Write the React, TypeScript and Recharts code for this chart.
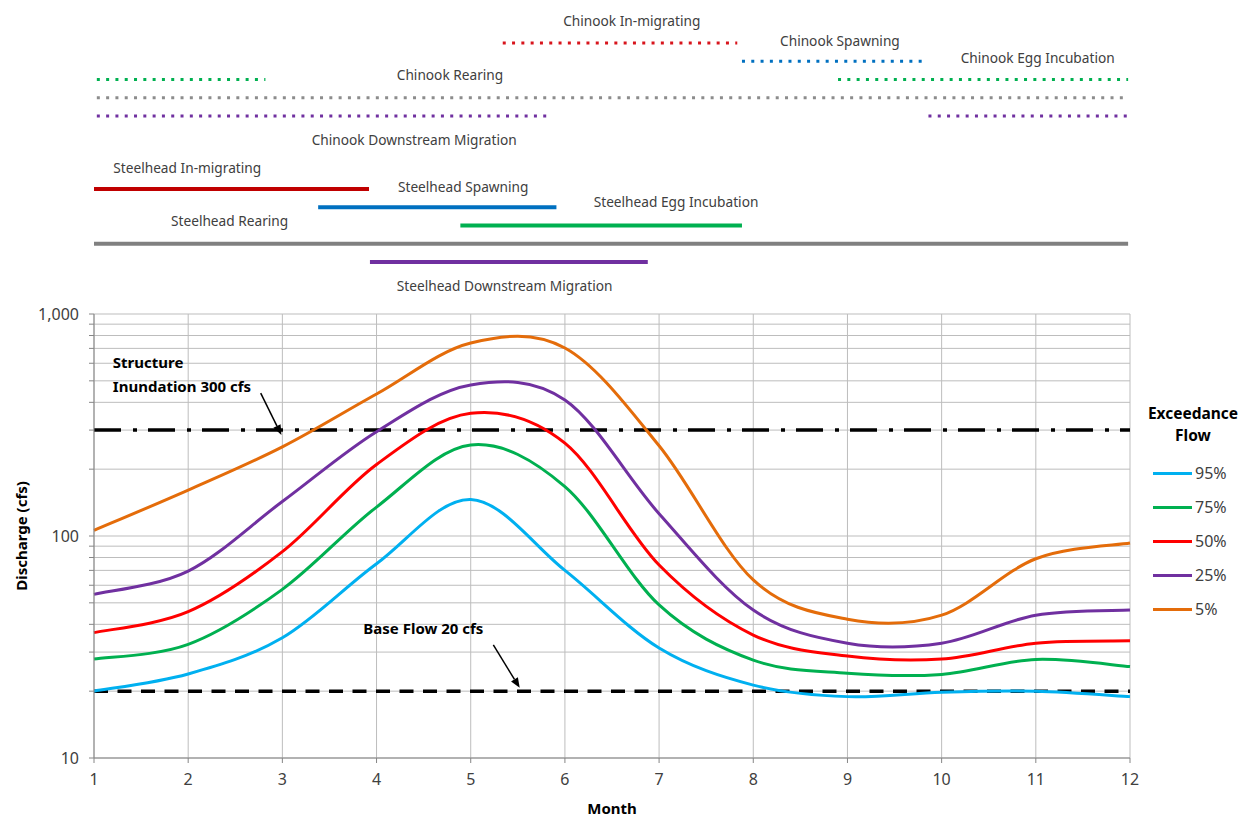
import React from 'react';
import { ComposedChart, LineChart, Line, XAxis, YAxis, CartesianGrid, ReferenceLine, ReferenceDot } from 'recharts';

// monthly exceedance flows (cfs)
const months = [1, 2, 3, 4, 5, 6, 7, 8, 9, 10, 11, 12];
const flow95 = [20, 23.9, 34.8, 75, 146, 70, 31.3, 21.3, 18.9, 19.8, 20, 18.9];
const flow75 = [27.9, 32.5, 57.5, 135, 257, 167, 48.9, 27.6, 24.1, 23.8, 27.8, 25.8];
const flow50 = [36.7, 45.6, 85, 210, 357, 262, 74, 35.8, 28.8, 27.9, 32.9, 33.7];
const flow25 = [54.6, 69.5, 143, 295, 479, 410, 126, 46.4, 32.9, 32.9, 44, 46.4];
const flow5 = [106, 161, 252, 436, 740, 703, 255, 63.4, 42.2, 44, 79, 93];

const seriesNames = ['95%', '75%', '50%', '25%', '5%'];
const seriesKeys = ['p95', 'p75', 'p50', 'p25', 'p5'];
const seriesColors = ['#00b0f0', '#00b050', '#ff0000', '#7030a0', '#e46c0a'];

const yTicks = [10, 20, 30, 40, 50, 60, 70, 80, 90, 100, 200, 300, 400, 500, 600, 700, 800, 900, 1000];
const yLabelled = [10, 100, 1000];

const inundationFlow = 300;
const baseFlow = 20;

// life stage periods (month spans)
const chinookPeriods = [
  { name: 'Chinook In-migrating', spans: [[5.34, 7.83]] },
  { name: 'Chinook Spawning', spans: [[7.88, 9.82]] },
  { name: 'Chinook Egg Incubation', spans: [[1.03, 2.82], [8.9, 11.98]] },
  { name: 'Chinook Rearing', spans: [[1.03, 11.98]] },
  { name: 'Chinook Downstream Migration', spans: [[1.03, 5.83], [9.86, 11.98]] },
];
const steelheadPeriods = [
  { name: 'Steelhead In-migrating', spans: [[1.0, 3.92]] },
  { name: 'Steelhead Spawning', spans: [[3.38, 5.91]] },
  { name: 'Steelhead Egg Incubation', spans: [[4.89, 7.88]] },
  { name: 'Steelhead Rearing', spans: [[1.0, 11.98]] },
  { name: 'Steelhead Downstream Migration', spans: [[3.93, 6.88]] },
];
const chinookColors = ['#d8141c', '#0070c0', '#00b050', '#8c8c8c', '#7030a0'];
const steelheadColors = ['#c00000', '#0070c0', '#00b050', '#808080', '#7030a0'];
// label placement: [month centre, lane]
const chinookLabelPos = [[6.71, -1.26], [8.92, -0.16], [11.02, 0.77], [4.78, 1.75], [4.4, 5.26]];
const steelheadLabelPos = [[1.99, 6.8], [4.92, 7.84], [7.18, 8.7], [2.44, 9.75], [5.36, 13.3]];

const flowData = months.map((m, i) => ({
  month: m, p95: flow95[i], p75: flow75[i], p50: flow50[i], p25: flow25[i], p5: flow5[i],
}));

// Excel-like smoothed line (Catmull-Rom bezier)
const excelCurve = (context: any) => {
  let pts: number[][] = [];
  return {
    areaStart() {},
    areaEnd() {},
    lineStart() { pts = []; },
    lineEnd() {
      if (!pts.length) return;
      context.moveTo(pts[0][0], pts[0][1]);
      for (let i = 0; i < pts.length - 1; i++) {
        const p0 = pts[Math.max(i - 1, 0)];
        const p1 = pts[i];
        const p2 = pts[i + 1];
        const p3 = pts[Math.min(i + 2, pts.length - 1)];
        context.bezierCurveTo(
          p1[0] + (p2[0] - p0[0]) / 6, p1[1] + (p2[1] - p0[1]) / 6,
          p2[0] - (p3[0] - p1[0]) / 6, p2[1] - (p3[1] - p1[1]) / 6,
          p2[0], p2[1]);
      }
    },
    point(x: number, y: number) { pts.push([+x, +y]); },
  };
};

const FONT = '"Noto Sans", Calibri, sans-serif';
const TEXT = '#404040';

const textShape = (txt: string, opts: any = {}) => (p: any) => (
  <text x={p.cx} y={p.cy} textAnchor={opts.anchor || 'middle'} dominantBaseline="central"
    fontFamily={FONT} fontSize={opts.size || 13.7} fontWeight={opts.weight || 'normal'} fill={opts.fill || TEXT}>
    {txt}
  </text>
);

const arrowShape = (p: any) => {
  const { x1, y1, x2, y2 } = p;
  const ang = Math.atan2(y2 - y1, x2 - x1);
  const L = 10, W = 4;
  const bx = x2 - L * Math.cos(ang), by = y2 - L * Math.sin(ang);
  const nx = -Math.sin(ang) * W, ny = Math.cos(ang) * W;
  return (
    <g>
      <line x1={x1} y1={y1} x2={bx} y2={by} stroke="#000" strokeWidth={1.5} />
      <polygon points={`${x2},${y2} ${bx + nx},${by + ny} ${bx - nx},${by - ny}`} fill="#000" />
    </g>
  );
};

function Timeline() {
  const groups = [
    { periods: chinookPeriods, colors: chinookColors, labels: chinookLabelPos, lane0: 0, dotted: true },
    { periods: steelheadPeriods, colors: steelheadColors, labels: steelheadLabelPos, lane0: 8, dotted: false },
  ];
  return (
    <LineChart width={1242} height={300} margin={{ top: 0, right: 112, bottom: 0, left: 94 }}>
      <XAxis type="number" dataKey="m" domain={[1, 12]} hide allowDataOverflow />
      <YAxis type="number" dataKey="lane" domain={[-2.356, 14.08]} reversed hide allowDataOverflow />
      {groups.map(g => g.periods.map((p, i) => p.spans.map((s, j) => (
        <Line key={`${p.name}-${j}`} data={[{ m: s[0], lane: g.lane0 + i }, { m: s[1], lane: g.lane0 + i }]}
          dataKey="lane" type="linear" stroke={g.colors[i]} strokeWidth={g.dotted ? 3 : 4}
          strokeDasharray={g.dotted ? '3 6.3' : undefined} dot={false} activeDot={false}
          isAnimationActive={false} />
      ))))}
      {groups.map(g => g.periods.map((p, i) => (
        <ReferenceDot key={`lbl-${p.name}`} x={g.labels[i][0]} y={g.labels[i][1]} r={0}
          ifOverflow="visible" shape={textShape(p.name)} />
      )))}
    </LineChart>
  );
}

function FlowChart() {
  return (
    <ComposedChart width={1242} height={518} data={flowData} margin={{ top: 14, right: 112, bottom: 0, left: 0 }}>
      <CartesianGrid stroke="#bdbdbd" strokeWidth={1} />
      <XAxis dataKey="month" type="number" domain={[1, 12]} ticks={months} height={60}
        tick={{ fill: TEXT, fontSize: 16, fontFamily: FONT }} tickSize={5} tickMargin={11}
        stroke="#868686"
        label={{ value: 'Month', position: 'insideBottom', offset: 4, fill: '#000', fontSize: 15, fontWeight: 'bold', fontFamily: FONT }} />
      <YAxis type="number" scale="log" domain={[10, 1000]} ticks={yTicks} width={94} interval={0}
        tickFormatter={(v: number) => (yLabelled.includes(v) ? v.toLocaleString('en-US') : '')}
        tick={{ fill: TEXT, fontSize: 16, fontFamily: FONT }} tickSize={5} tickMargin={10}
        stroke="#868686"
        label={{
          content: ({ viewBox }: any) => {
            const cy = viewBox.y + viewBox.height / 2;
            return (
              <text x={21} y={cy} transform={`rotate(-90, 21, ${cy})`} textAnchor="middle" dominantBaseline="central"
                fontFamily={FONT} fontSize={15} fontWeight="bold" fill="#000">Discharge (cfs)</text>
            );
          },
        }} />
      <ReferenceLine y={inundationFlow} stroke="#000" strokeWidth={3.5} strokeDasharray="27 12 4 11" />
      <ReferenceLine y={baseFlow} stroke="#000" strokeWidth={3.5} strokeDasharray="14 9.5" />
      {seriesKeys.map((k, i) => (
        <Line key={k} dataKey={k} name={seriesNames[i]} type={excelCurve as any} stroke={seriesColors[i]}
          strokeWidth={3} dot={false} activeDot={false} isAnimationActive={false} />
      ))}
      <ReferenceDot x={1.2} y={608} r={0} ifOverflow="visible"
        shape={textShape('Structure', { anchor: 'start', size: 15, weight: 'bold', fill: '#000' })} />
      <ReferenceDot x={1.2} y={476} r={0} ifOverflow="visible"
        shape={textShape('Inundation 300 cfs', { anchor: 'start', size: 15, weight: 'bold', fill: '#000' })} />
      <ReferenceDot x={3.86} y={38.5} r={0} ifOverflow="visible"
        shape={textShape('Base Flow 20 cfs', { anchor: 'start', size: 15, weight: 'bold', fill: '#000' })} />
      <ReferenceLine segment={[{ x: 2.77, y: 440 }, { x: 2.99, y: 285 }]} shape={arrowShape} ifOverflow="visible" />
      <ReferenceLine segment={[{ x: 5.24, y: 32.3 }, { x: 5.52, y: 20.7 }]} shape={arrowShape} ifOverflow="visible" />
    </ComposedChart>
  );
}

function FlowLegend() {
  return (
    <div style={{ position: 'absolute', left: 1140, top: 402, width: 102, fontFamily: FONT, color: '#000' }}>
      <div style={{ textAlign: 'center', fontWeight: 'bold', fontSize: 15.5, lineHeight: '22px', paddingLeft: 4 }}>
        Exceedance<br />Flow
      </div>
      {seriesNames.map((n, i) => (
        <div key={n} style={{ position: 'absolute', top: 59 + i * 34, left: 13, height: 24, display: 'flex', alignItems: 'center' }}>
          <div style={{ width: 39, height: 3, background: seriesColors[i], marginRight: 3 }} />
          <span style={{ fontSize: 16, color: TEXT }}>{n}</span>
        </div>
      ))}
    </div>
  );
}

export default function App() {
  return (
    <div style={{ position: 'absolute', left: 0, top: 0, width: 1242, height: 818, background: '#fff' }}>
      <Timeline />
      <FlowChart />
      <FlowLegend />
    </div>
  );
}
